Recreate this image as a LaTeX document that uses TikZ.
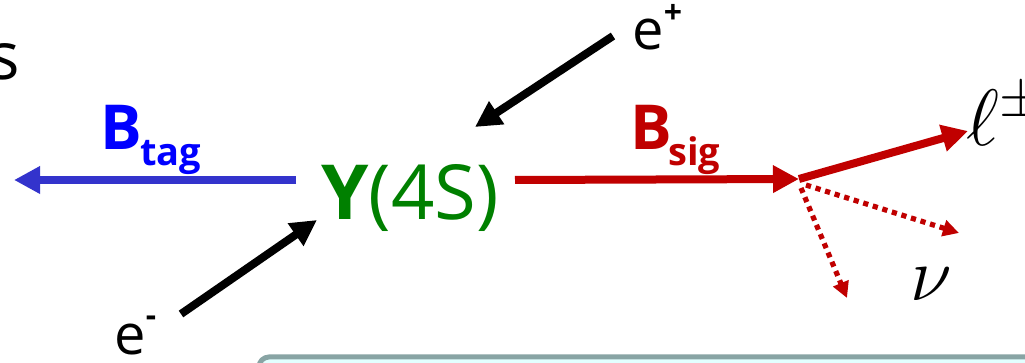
\RequirePackage{fix-cm}
\documentclass[tikz,border=0pt]{standalone}
\usepackage{fontspec}
\setmainfont{Open Sans}
\usetikzlibrary{arrows.meta}
\definecolor{tagblue}{RGB}{0,0,255}
\definecolor{lineblue}{RGB}{51,51,204}
\definecolor{ygreen}{RGB}{0,128,0}
\definecolor{sigred}{RGB}{192,0,0}
\definecolor{boxline}{RGB}{136,164,164}
\definecolor{boxfill}{RGB}{226,255,255}
\tikzset{
  bigarrow/.style={line width=4pt,-{Triangle[length=13pt,width=13pt]}},
  dotarrow/.style={line width=2.6pt,sigred,dash pattern=on 2.6pt off 2.4pt,-{Triangle[length=8pt,width=8pt]}},
  lbl/.style={inner sep=0pt,anchor=base west},
}
\begin{document}
\begin{tikzpicture}[x=0.5pt,y=-0.5pt]
\clip (0,0) rectangle (1025,363);
\fill[white] (0,0) rectangle (1025,363);
% bottom box
\draw[boxline,fill=boxfill,line width=2.5pt,rounded corners=5pt] (259,357) rectangle (1060,430);
% partial letter
\node[lbl] (s) at (-12,80) {\fontsize{33}{33}\selectfont s};
% labels
\node[lbl,tagblue] (btag) at (100,150) {\fontsize{31}{31}\selectfont\bfseries B};
\node[lbl,tagblue] (btagsub) at (140,166) {\fontsize{19}{19}\selectfont\bfseries tag};
\node[lbl,sigred] (bsig) at (630,150) {\fontsize{31}{31}\selectfont\bfseries B};
\node[lbl,sigred] (bsigsub) at (668,166) {\fontsize{19}{19}\selectfont\bfseries sig};
\node[lbl,ygreen] (ups) at (321,220) {\fontsize{38}{38}\selectfont{\bfseries Υ}(4S)};
\node[lbl] (ep) at (632,50) {\fontsize{28}{28}\selectfont e\raisebox{13pt}{\fontsize{16}{16}\selectfont\bfseries +}};
\node[lbl] (em) at (114,355) {\fontsize{28}{28}\selectfont e\raisebox{14pt}{\fontsize{16}{16}\selectfont\bfseries -}};
\node[lbl] (ell) at (966,146) {\fontsize{40}{40}\selectfont$\ell^{\pm}$};
\node[lbl] (nu) at (910,301) {\fontsize{38}{38}\selectfont$\nu$};
% coordinates
\coordinate (bts) at (296,180);
\coordinate (bte) at (14,180);
\coordinate (bss) at (515,180);
\coordinate (vx) at (799,179);
\coordinate (lend) at (968,131);
\coordinate (d1s) at (806,185);
\coordinate (d1e) at (959,233);
\coordinate (d2s) at (801,188);
\coordinate (d2e) at (847,298);
\coordinate (eps) at (613,36);
\coordinate (epe) at (475,127);
\coordinate (ems) at (181,314);
\coordinate (eme) at (317,220);
% arrows
\draw[bigarrow,lineblue] (bts) -- (bte);
\draw[bigarrow,sigred] (bss) -- (vx);
\draw[bigarrow,sigred] (vx) -- (lend);
\draw[dotarrow] (d1s) -- (d1e);
\draw[dotarrow] (d2s) -- (d2e);
\draw[bigarrow,black] (eps) -- (epe);
\draw[bigarrow,black] (ems) -- (eme);
\end{tikzpicture}
\end{document}
